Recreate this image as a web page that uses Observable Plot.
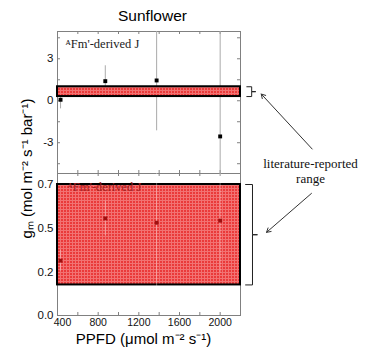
<!DOCTYPE html>
<html><head><meta charset="utf-8">
<script src="https://cdn.jsdelivr.net/npm/d3@7"></script>
<script src="https://cdn.jsdelivr.net/npm/@observablehq/plot@0.6"></script>
<style>
body{margin:0;background:#fff}
#wrap{position:relative;width:370px;height:362px;overflow:hidden}
#wrap svg{position:absolute;left:0}
</style></head><body>
<svg width="0" height="0" style="position:absolute"><defs>
<pattern id="mesh" width="3" height="3" patternUnits="userSpaceOnUse">
<rect width="3" height="3" fill="#ea3a3a"/><path d="M0,0.5H3M0.5,0V3" stroke="#f27272" stroke-width="1"/>
</pattern></defs></svg>
<div id="wrap"></div>
<script>
// ---- data ----
const ppfd = [430, 870, 1375, 2000];
const gmTop = [0.07, 1.4, 1.45, -2.55];
const gmTopErr = [0.65, 1.1, 3.6, 8];
const gmBottom = [0.314, 0.556, 0.531, 0.543];
const gmBottomErr = [0.06, 0.1, 0.5, 0.3];
const litTop = [0.3, 1.0];
const litBottom = [0.175, 0.75];
const xDomain = [400, 2200];
const xTicks = [400, 800, 1200, 1600, 2000];
const xTickLabels = ["400", "800", "1200", "1600", "2000"];
const xMinor = [400, 600, 800, 1000, 1200, 1400, 1600, 1800, 2000, 2200];
const yTopDomain = [-5.2, 4.95];
const yTopTicks = [-3, 0, 3];
const yTopTickLabels = ["-3", "0", "3"];
const yTopMinor = [-4.5, -3, -1.5, 0, 1.5, 3, 4.5];
const yBottomDomain = [0, 0.813];
const yBottomTicks = [0, 0.25, 0.5, 0.75];
const yBottomTickLabels = ["0.0", "0.2", "0.5", "0.7"];
const titleText = "Sunflower";
const panelLabel = "ᴬFm'-derived J";
const xLabel = "PPFD (μmol m⁻² s⁻¹)";
const yLabel = "gₘ (mol m⁻² s⁻¹ bar⁻¹)";
const annotText = "literature-reported\nrange";
// annotation geometry in data units
const bracketX = [2250, 2318, 2367];
const bracketXTop = [2262, 2310, 2350];
const arrowTop = {x1: 2905, y1: -3.45, x2: 2404, y2: 0.48};
const arrowBottom = {x1: 2898, y1: 0.699, x2: 2456, y2: 0.476};

const sans = "'Liberation Sans', Arial, sans-serif";
const serif = "'Liberation Serif', 'Times New Roman', serif";
const frameColor = "#808080";
const W = 370, ML = 57, MR = 130;
const tickPx = 3;

const topPts = ppfd.map((x, i) => ({x, y: gmTop[i], lo: gmTop[i] - gmTopErr[i], hi: gmTop[i] + gmTopErr[i]}));
const botPts = ppfd.map((x, i) => ({x, y: gmBottom[i], lo: gmBottom[i] - gmBottomErr[i], hi: gmBottom[i] + gmBottomErr[i]}));

function bracket(range, xs) {
  const [lo, hi] = range, mid = (lo + hi) / 2;
  const [L, M, R] = xs;
  return [{x: L, y: hi}, {x: M, y: hi}, {x: M, y: mid}, {x: R, y: mid}, {x: M, y: mid}, {x: M, y: lo}, {x: L, y: lo}];
}

// inward tick marks on all four edges, lengths converted from pixels to data units
function tickMarks(yDomain, yMinor, innerH) {
  const dx = tickPx * (xDomain[1] - xDomain[0]) / (W - ML - MR);
  const dy = tickPx * (yDomain[1] - yDomain[0]) / innerH;
  const st = {stroke: frameColor, strokeWidth: 1};
  return [
    Plot.ruleX(xMinor, {x: (d) => d, y1: () => yDomain[0], y2: () => yDomain[0] + dy, ...st}),
    Plot.ruleX(xMinor, {x: (d) => d, y1: () => yDomain[1], y2: () => yDomain[1] - dy, ...st}),
    Plot.ruleY(yMinor, {y: (d) => d, x1: () => xDomain[0], x2: () => xDomain[0] + dx, ...st}),
    Plot.ruleY(yMinor, {y: (d) => d, x1: () => xDomain[1], x2: () => xDomain[1] - dx, ...st})
  ];
}

const topH = 173, topMT = 31, topMB = 0;
const topPlot = Plot.plot({
  width: W, height: topH, marginTop: topMT, marginBottom: topMB, marginLeft: ML, marginRight: MR,
  style: {fontFamily: sans, overflow: "visible", background: "transparent"},
  x: {domain: xDomain, axis: null},
  y: {domain: yTopDomain, axis: null},
  marks: [
    Plot.frame({stroke: frameColor}),
    ...tickMarks(yTopDomain, yTopMinor, topH - topMT - topMB),
    Plot.text(yTopTicks, {y: (d) => d, text: (d, i) => yTopTickLabels[i], frameAnchor: "left", textAnchor: "end", dx: -4, fontSize: 11.5, fill: "#111"}),
    Plot.ruleX(topPts, {x: "x", y1: "lo", y2: "hi", stroke: "#aaa", strokeWidth: 1, clip: true}),
    Plot.dot(topPts, {x: "x", y: "y", symbol: "square", r: 2.2, fill: "#000"}),
    Plot.rect([{y1: litTop[0], y2: litTop[1]}], {x1: () => xDomain[0], x2: () => xDomain[1], y1: "y1", y2: "y2", fill: "url(#mesh)", stroke: "#000", strokeWidth: 2}),
    Plot.text([panelLabel], {frameAnchor: "top-left", dx: 8, dy: 12, lineAnchor: "middle", textAnchor: "start", fontFamily: serif, fontSize: 12.5, fill: "#222"}),
    Plot.text([titleText], {frameAnchor: "top", dx: 3.5, dy: -15, lineAnchor: "middle", textAnchor: "middle", fontSize: 15.5, fill: "#000"}),
    Plot.line(bracket(litTop, bracketXTop), {x: "x", y: "y", stroke: "#222", strokeWidth: 1, curve: "linear"}),
    Plot.arrow([arrowTop], {x1: "x1", y1: "y1", x2: "x2", y2: "y2", stroke: "#333", strokeWidth: 1, headLength: 7})
  ]
});

const botH = 189, botMT = 0, botMB = 47;
const botPlot = Plot.plot({
  width: W, height: botH, marginTop: botMT, marginBottom: botMB, marginLeft: ML, marginRight: MR,
  style: {fontFamily: sans, overflow: "visible", background: "transparent"},
  x: {domain: xDomain, axis: null},
  y: {domain: yBottomDomain, axis: null},
  marks: [
    Plot.frame({stroke: frameColor}),
    ...tickMarks(yBottomDomain, yBottomTicks, botH - botMT - botMB),
    Plot.text(yBottomTicks, {y: (d) => d, text: (d, i) => yBottomTickLabels[i], frameAnchor: "left", textAnchor: "end", dx: -4, fontSize: 11.5, fill: "#111"}),
    Plot.text(xTicks.slice(0, 1), {x: (d) => d, text: (d, i) => xTickLabels[i], frameAnchor: "bottom", lineAnchor: "top", textAnchor: "middle", dx: 5, dy: 3, fontSize: 10.5, fill: "#111"}),
    Plot.text(xTicks.slice(1), {x: (d) => d, text: (d, i) => xTickLabels[i + 1], frameAnchor: "bottom", lineAnchor: "top", textAnchor: "middle", dy: 3, fontSize: 10.5, fill: "#111"}),
    Plot.rect([{y1: litBottom[0], y2: litBottom[1]}], {x1: () => xDomain[0], x2: () => xDomain[1], y1: "y1", y2: "y2", fill: "url(#mesh)", stroke: "#000", strokeWidth: 2}),
    Plot.ruleX(botPts, {x: "x", y1: "lo", y2: "hi", stroke: "#fff", strokeOpacity: 0.35, strokeWidth: 1, clip: true}),
    Plot.dot(botPts, {x: "x", y: "y", symbol: "square", r: 2.2, fill: "#a01010"}),
    Plot.text([panelLabel], {frameAnchor: "top-left", dx: 10, dy: 13, lineAnchor: "middle", textAnchor: "start", fontFamily: serif, fontSize: 12.5, fill: "#a02020"}),
    Plot.text([xLabel], {frameAnchor: "bottom", dx: -5.5, dy: 24, lineAnchor: "middle", textAnchor: "middle", fontSize: 15, fill: "#000"}),
    Plot.text([yLabel], {frameAnchor: "left", dx: -30, dy: -76, rotate: -90, lineAnchor: "middle", textAnchor: "middle", fontSize: 15, fill: "#000"}),
    Plot.text([annotText], {frameAnchor: "top-right", dx: 70, dy: -3, lineAnchor: "middle", textAnchor: "middle", fontFamily: serif, fontSize: 13, lineHeight: 1.2, fill: "#111"}),
    Plot.line(bracket(litBottom, bracketX), {x: "x", y: "y", stroke: "#222", strokeWidth: 1, curve: "linear"}),
    Plot.arrow([arrowBottom], {x1: "x1", y1: "y1", x2: "x2", y2: "y2", stroke: "#333", strokeWidth: 1, headLength: 7})
  ]
});

const wrap = document.getElementById("wrap");
topPlot.style.top = "0px";
botPlot.style.top = topH + "px";
wrap.appendChild(topPlot);
wrap.appendChild(botPlot);
</script>
</body></html>
